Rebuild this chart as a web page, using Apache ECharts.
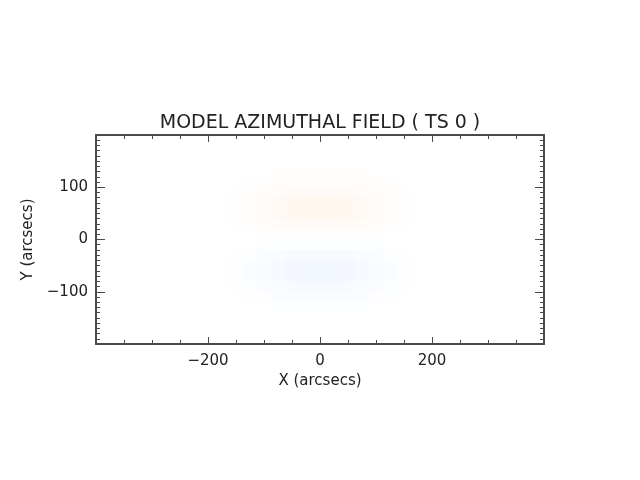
<!DOCTYPE html>
<html>
<head>
<meta charset="utf-8">
<script src="https://cdn.jsdelivr.net/npm/echarts@6/dist/echarts.min.js"></script>
<style>
html,body{margin:0;padding:0;background:#fff;}
#main{width:640px;height:480px;}
</style>
</head>
<body>
<div id="main"></div>
<script>
// cell centres (arcsecs)
var xCenters = [-175,-150,-125,-100,-75,-50,-25,0,25,50,75,100,125,150,175];
var yCenters = [130,110,90,70,50,30,10,-10,-30,-50,-70,-90,-110,-130];
// field strength per row (positive = orange, negative = blue)
var fieldRows = [
	[0,0,0,0,1,1,1,1,1,1,1,0,0,0,0],
	[0,0,1,1,2,2,2,2,2,2,2,1,1,0,0],
	[0,1,1,2,3,4,4,4,4,4,3,2,1,1,0],
	[0,1,2,3,5,6,7,7,7,6,5,3,2,1,0],
	[0,1,2,3,5,6,7,7,7,6,5,3,2,1,0],
	[0,1,1,2,3,4,4,4,4,4,3,2,1,1,0],
	[0,0,0,1,1,1,1,1,1,1,1,1,0,0,0],
	[0,0,0,-1,-1,-1,-1,-1,-1,-1,-1,-1,0,0,0],
	[0,-1,-1,-2,-3,-4,-4,-4,-4,-4,-3,-2,-1,-1,0],
	[0,-1,-2,-3,-5,-6,-7,-7,-7,-6,-5,-3,-2,-1,0],
	[0,-1,-2,-3,-5,-6,-7,-7,-7,-6,-5,-3,-2,-1,0],
	[0,-1,-1,-2,-3,-4,-4,-4,-4,-4,-3,-2,-1,-1,0],
	[0,0,-1,-1,-2,-2,-2,-2,-2,-2,-2,-1,-1,0,0],
	[0,0,0,0,-1,-1,-1,-1,-1,-1,-1,0,0,0,0]
];
var cellW = 25, cellH = 20;

function getCells(){
	var a = [];
	for(var r=0; r<yCenters.length; r++){
		for(var c=0; c<xCenters.length; c++){
			if(fieldRows[r][c] !== 0) a.push([xCenters[c], yCenters[r], fieldRows[r][c]]);
		}
	}
	return a;
}

var font = 'DejaVu Sans';
var axisCol = '#4a4a4a';
var textCol = '#222';

function xFmt(v){ return String(v).replace('-', '\u2212'); }

var option = {
	animation: false,
	backgroundColor: '#fff',
	title: {
		text: 'MODEL AZIMUTHAL FIELD ( TS 0 )',
		left: 'center',
		top: 109,
		textStyle: {fontFamily: font, fontSize: 19, fontWeight: 'normal', color: textCol}
	},
	grid: {left: 96, right: 96, top: 135, bottom: 136},
	visualMap: {
		show: false,
		min: -7, max: 7,
		dimension: 2,
		inRange: {color: ['#F2F6FF', '#FFFFFF', '#FFF6EE']}
	},
	xAxis: [{
		type: 'value', position: 'bottom', min: -400, max: 400, interval: 200,
		name: 'X (arcsecs)', nameLocation: 'middle', nameGap: 30,
		nameTextStyle: {fontFamily: font, fontSize: 15, color: textCol},
		axisLine: {onZero: false, lineStyle: {color: axisCol, width: 2}},
		axisTick: {inside: true, length: 7, lineStyle: {color: axisCol}},
		minorTick: {show: true, splitNumber: 4, length: 4, lineStyle: {color: axisCol}},
		axisLabel: {fontFamily: font, fontSize: 15, color: textCol, margin: 10,
			showMinLabel: false, showMaxLabel: false, formatter: xFmt},
		splitLine: {show: false}
	},{
		type: 'value', position: 'top', min: -400, max: 400, interval: 200,
		axisLine: {onZero: false, lineStyle: {color: axisCol, width: 2}},
		axisTick: {inside: true, length: 7, lineStyle: {color: axisCol}},
		minorTick: {show: true, splitNumber: 4, length: 4, lineStyle: {color: axisCol}},
		axisLabel: {show: false},
		splitLine: {show: false}
	}],
	yAxis: [{
		type: 'value', position: 'left', min: -200, max: 200, interval: 100,
		name: 'Y (arcsecs)', nameLocation: 'middle', nameGap: 56,
		nameTextStyle: {fontFamily: font, fontSize: 15, color: textCol},
		axisLine: {onZero: false, lineStyle: {color: axisCol, width: 2}},
		axisTick: {inside: true, length: 9, lineStyle: {color: axisCol}},
		minorTick: {show: true, splitNumber: 10, length: 4, lineStyle: {color: axisCol}},
		axisLabel: {fontFamily: font, fontSize: 15, color: textCol, margin: 8,
			showMinLabel: false, showMaxLabel: false, formatter: xFmt},
		splitLine: {show: false}
	},{
		type: 'value', position: 'right', min: -200, max: 200, interval: 100,
		axisLine: {onZero: false, lineStyle: {color: axisCol, width: 2}},
		axisTick: {inside: true, length: 9, lineStyle: {color: axisCol}},
		minorTick: {show: true, splitNumber: 10, length: 4, lineStyle: {color: axisCol}},
		axisLabel: {show: false},
		splitLine: {show: false}
	}],
	series: [{
		type: 'custom',
		xAxisIndex: 0, yAxisIndex: 0,
		data: getCells(),
		encode: {x: 0, y: 1},
		renderItem: function(params, api){
			var p = api.coord([api.value(0) - cellW/2, api.value(1) + cellH/2]);
			var s = api.size([cellW, cellH]);
			return {
				type: 'rect',
				shape: {x: p[0], y: p[1], width: s[0] + 0.5, height: s[1] + 0.5},
				style: {fill: api.visual('color')}
			};
		}
	}]
};

var myChart = echarts.init(document.getElementById('main'), null, {renderer: 'canvas'});
myChart.setOption(option);
</script>
</body>
</html>
